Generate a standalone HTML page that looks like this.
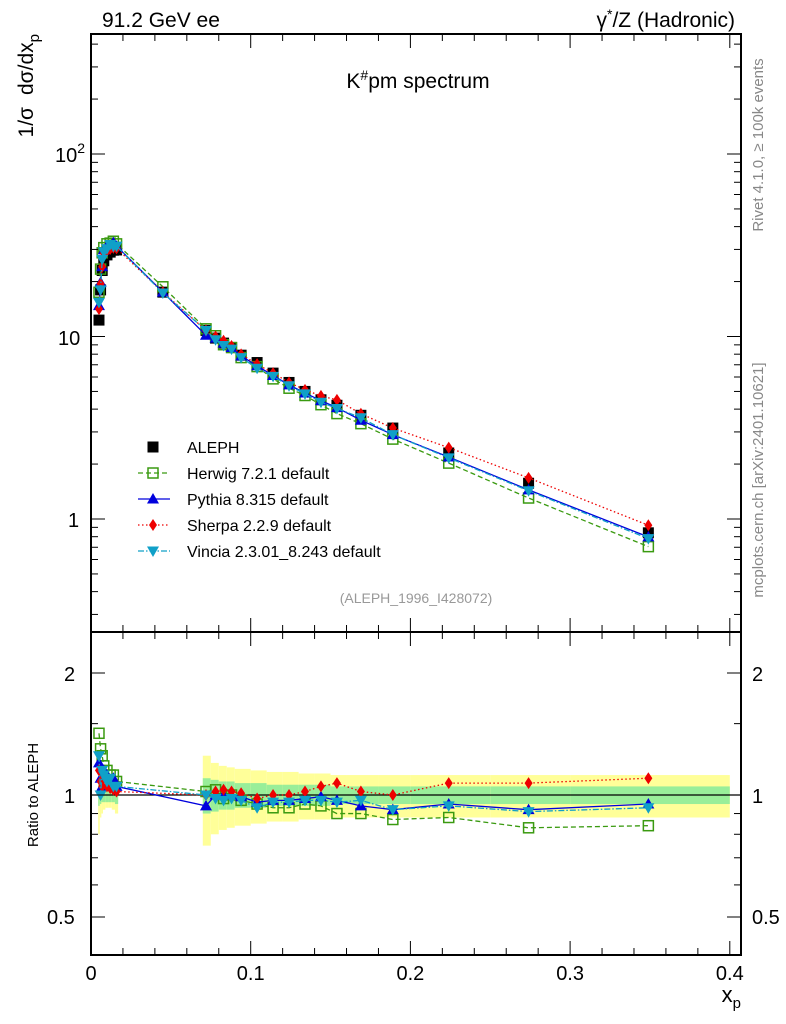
<!DOCTYPE html>
<html><head><meta charset="utf-8"><style>
html,body{margin:0;padding:0;background:#fff}
svg{display:block;font-family:"Liberation Sans",sans-serif}
</style></head><body>
<svg id="c" width="786" height="1024" viewBox="0 0 786 1024"></svg>
<script>
const xs=[0.005,0.006,0.007,0.008,0.010,0.012,0.014,0.016,0.045,0.072,0.078,0.083,0.088,0.094,0.104,0.114,0.124,0.134,0.144,0.154,0.169,0.189,0.224,0.274,0.349];
const aleph=[12.3,18,23,26,28,29,29.7,29.8,17.5,10.8,9.8,9.2,8.7,7.9,7.2,6.3,5.6,5.0,4.5,4.2,3.7,3.15,2.3,1.57,0.84];
const rHerwig=[1.42,1.3,1.25,1.18,1.15,1.12,1.12,1.08,1.07,1.02,1.03,0.98,1.0,0.97,0.95,0.93,0.93,0.95,0.94,0.90,0.90,0.87,0.88,0.83,0.84];
const rPythia=[1.2,1.1,1.05,1.15,1.12,1.08,1.1,1.05,1.0,0.94,1.0,1.0,1.0,0.99,0.96,0.97,0.97,0.98,0.99,0.97,0.94,0.92,0.95,0.92,0.95];
const rSherpa=[1.15,1.08,1.05,1.1,1.05,1.04,1.03,1.02,1.0,1.0,1.02,1.03,1.02,1.01,0.98,1.0,1.0,1.02,1.05,1.07,1.02,1.0,1.07,1.07,1.1];
const rVincia=[1.25,1.0,1.15,1.12,1.08,1.1,1.05,1.05,0.99,1.0,0.98,0.97,0.98,0.97,0.93,0.96,0.96,0.97,0.97,0.96,0.97,0.92,0.94,0.91,0.93];
const binLo=[0.0045,0.0055,0.0065,0.0075,0.009,0.011,0.013,0.015,0.02,0.07,0.075,0.08,0.085,0.09,0.1,0.11,0.12,0.13,0.14,0.15,0.16,0.18,0.2,0.25,0.3];
const binHi=[0.0055,0.0065,0.0075,0.009,0.011,0.013,0.015,0.017,0.07,0.075,0.08,0.085,0.09,0.1,0.11,0.12,0.13,0.14,0.15,0.16,0.18,0.2,0.25,0.3,0.4];
const errTot=[0.2,0.12,0.1,0.08,0.07,0.07,0.08,0.1,0,0.25,0.2,0.18,0.17,0.16,0.15,0.14,0.14,0.13,0.13,0.12,0.12,0.12,0.12,0.12,0.12];
const errStat=[0.06,0.05,0.04,0.04,0.04,0.04,0.04,0.05,0,0.1,0.09,0.08,0.08,0.07,0.07,0.06,0.06,0.06,0.06,0.05,0.05,0.05,0.05,0.05,0.05];

const S=document.getElementById('c'),NS='http://www.w3.org/2000/svg';
function el(t,a,p){const e=document.createElementNS(NS,t);for(const k in a)e.setAttribute(k,a[k]);(p||S).appendChild(e);return e;}
const L=91,R=741,T=34,M=632,B=955;
const X=x=>L+x*1597;
const Y=v=>519-182.5*Math.log10(v);
const YR=r=>795-122*Math.log2(r);

for(let i=0;i<xs.length;i++){if(!errTot[i])continue;
 let r=el('rect',{x:X(binLo[i]),y:YR(1+errTot[i]),width:X(binHi[i])-X(binLo[i]),height:YR(1-errTot[i])-YR(1+errTot[i]),fill:'#ffff99'});
 
 let g=el('rect',{x:X(binLo[i]),y:YR(1+errStat[i]),width:X(binHi[i])-X(binLo[i]),height:YR(1-errStat[i])-YR(1+errStat[i]),fill:'#99ee99'});
 }
el('line',{x1:L,x2:R,y1:YR(1),y2:YR(1),stroke:'#000','stroke-width':1.3});

const series=[
 {n:'herwig',r:rHerwig,c:'#3a9a10',d:'5,3',m:'sq',lab:'Herwig 7.2.1 default'},
 {n:'pythia',r:rPythia,c:'#0000dd',d:'',m:'tri',lab:'Pythia 8.315 default'},
 {n:'sherpa',r:rSherpa,c:'#ee0000',d:'1.5,2.5',m:'dia',lab:'Sherpa 2.2.9 default'},
 {n:'vincia',r:rVincia,c:'#10a0c8',d:'6,2,1.5,2',m:'itri',lab:'Vincia 2.3.01_8.243 default'}];
function marker(m,x,y,c,g){
 let e;
 if(m==='sq')e=el('rect',{x:x-5,y:y-5,width:10,height:10,fill:'none',stroke:c,'stroke-width':1.5},g);
 else if(m==='tri')e=el('polygon',{points:`${x},${y-6} ${x-6},${y+4.5} ${x+6},${y+4.5}`,fill:c},g);
 else if(m==='dia')e=el('polygon',{points:`${x},${y-6} ${x-4},${y} ${x},${y+6} ${x+4},${y}`,fill:c},g);
 else if(m==='itri')e=el('polygon',{points:`${x},${y+6} ${x-6},${y-4.5} ${x+6},${y-4.5}`,fill:c},g);
 else e=el('rect',{x:x-5.5,y:y-5.5,width:11,height:11,fill:c},g);
 
}
const ga=el('g',{});
xs.forEach((x,i)=>marker('blk',X(x),Y(aleph[i]),'#000',ga));
series.forEach(s=>{
 const g=el('g',{});
 const pts=xs.map((x,i)=>X(x)+','+Y(aleph[i]*s.r[i])).join(' ');
 el('polyline',{points:pts,fill:'none',stroke:s.c,'stroke-width':1.3,'stroke-dasharray':s.d},g);
 xs.forEach((x,i)=>marker(s.m,X(x),Y(aleph[i]*s.r[i]),s.c,g));
 const g2=el('g',{});
 const idx=xs.map((x,i)=>i).filter(i=>errTot[i]>0);
 el('polyline',{points:idx.map(i=>X(xs[i])+','+YR(s.r[i])).join(' '),fill:'none',stroke:s.c,'stroke-width':1.3,'stroke-dasharray':s.d},g2);
 idx.forEach(i=>marker(s.m,X(xs[i]),YR(s.r[i]),s.c,g2));
});
el('rect',{x:L,y:T,width:R-L,height:M-T,fill:'none',stroke:'#000','stroke-width':2});
el('rect',{x:L,y:M,width:R-L,height:B-M,fill:'none',stroke:'#000','stroke-width':2});
for(let e=-1;e<=2;e++)for(let k=1;k<10;k++){const v=k*Math.pow(10,e);const y=Y(v);if(y<T||y>M)continue;const len=k===1?14:7;
 el('line',{x1:L,x2:L+len,y1:y,y2:y,stroke:'#000'});el('line',{x1:R,x2:R-len,y1:y,y2:y,stroke:'#000'});}
[0.5,0.6,0.7,0.8,0.9,1,1.5,2].forEach(v=>{const y=YR(v);const len=(v===0.5||v===1||v===2)?14:7;
 el('line',{x1:L,x2:L+len,y1:y,y2:y,stroke:'#000'});el('line',{x1:R,x2:R-len,y1:y,y2:y,stroke:'#000'});});
for(let i=0;i<=20;i++){const x=X(i*0.02);if(x>R)break;const len=i%5===0?14:7;
 [[T,1],[M,-1],[M,1],[B,-1]].forEach(([y0,d])=>el('line',{x1:x,x2:x,y1:y0,y2:y0+d*len,stroke:'#000'}));}
function txt(s,a,name){const t=el('text',a);t.textContent=s;return t;}
txt('',{x:55,y:162,'font-size':20},'y-tick-100').innerHTML='10<tspan dy="-9" font-size="14">2</tspan>';
txt('10',{x:58,y:345,'font-size':20},'y-tick-10');
txt('1',{x:68,y:527,'font-size':20},'y-tick-1');
txt('2',{x:64,y:681,'font-size':20},'ratio-tick-2');txt('1',{x:64,y:803,'font-size':20},'ratio-tick-1');txt('0.5',{x:47,y:924,'font-size':20},'ratio-tick-0.5');
txt('2',{x:752,y:681,'font-size':20},'ratio-tick-2-right');txt('1',{x:752,y:803,'font-size':20},'ratio-tick-1-right');txt('0.5',{x:752,y:924,'font-size':20},'ratio-tick-0.5-right');
[['0',0],['0.1',0.1],['0.2',0.2],['0.3',0.3],['0.4',0.4]].forEach(([s,v])=>txt(s,{x:X(v),y:980,'font-size':20,'text-anchor':'middle'},'x-tick-'+s));
txt('',{x:741,y:1002,'font-size':22,'text-anchor':'end'},'x-axis-title').innerHTML='x<tspan dy="6" font-size="15">p</tspan>';
txt('',{transform:'translate(33,34) rotate(-90)','font-size':21,'text-anchor':'end'},'y-axis-title').innerHTML='1/σ<tspan dx="12">dσ/dx</tspan><tspan dy="6" font-size="15">p</tspan>';
txt('Ratio to ALEPH',{transform:'translate(38,795) rotate(-90)','font-size':15,'text-anchor':'middle'},'ratio-axis-title');
txt('91.2 GeV ee',{x:102,y:27,'font-size':21},'energy-label');
txt('',{x:735,y:27,'font-size':21,'text-anchor':'end'},'process-label').innerHTML='γ<tspan dy="-8" font-size="14">*</tspan><tspan dy="8">/Z (Hadronic)</tspan>';
txt('',{x:418,y:88,'font-size':21,'text-anchor':'middle'},'plot-title').innerHTML='K<tspan dy="-8" font-size="14">#</tspan><tspan dy="8">pm spectrum</tspan>';
txt('(ALEPH_1996_I428072)',{x:416,y:603,'font-size':14,fill:'#999','text-anchor':'middle'},'analysis-id');
txt('Rivet 4.1.0, ≥ 100k events',{transform:'translate(763,145) rotate(-90)','font-size':15,fill:'#888','text-anchor':'middle'},'rivet-label');
txt('mcplots.cern.ch [arXiv:2401.10621]',{transform:'translate(763,480) rotate(-90)','font-size':15,fill:'#888','text-anchor':'middle'},'mcplots-label');
const lg=el('g',{});
const ly=[447,473,499,525,551];
marker('blk',153,ly[0],'#000',lg);txt('ALEPH',{x:187,y:ly[0]+6,'font-size':16},'legend-entry-aleph');
series.forEach((s,i)=>{const y=ly[i+1];el('line',{x1:138,x2:170,y1:y,y2:y,stroke:s.c,'stroke-width':1.3,'stroke-dasharray':s.d},lg);marker(s.m,153,y,s.c,lg);txt(s.lab,{x:187,y:y+6,'font-size':16},'legend-entry-'+s.n);});
</script>
</body></html>
